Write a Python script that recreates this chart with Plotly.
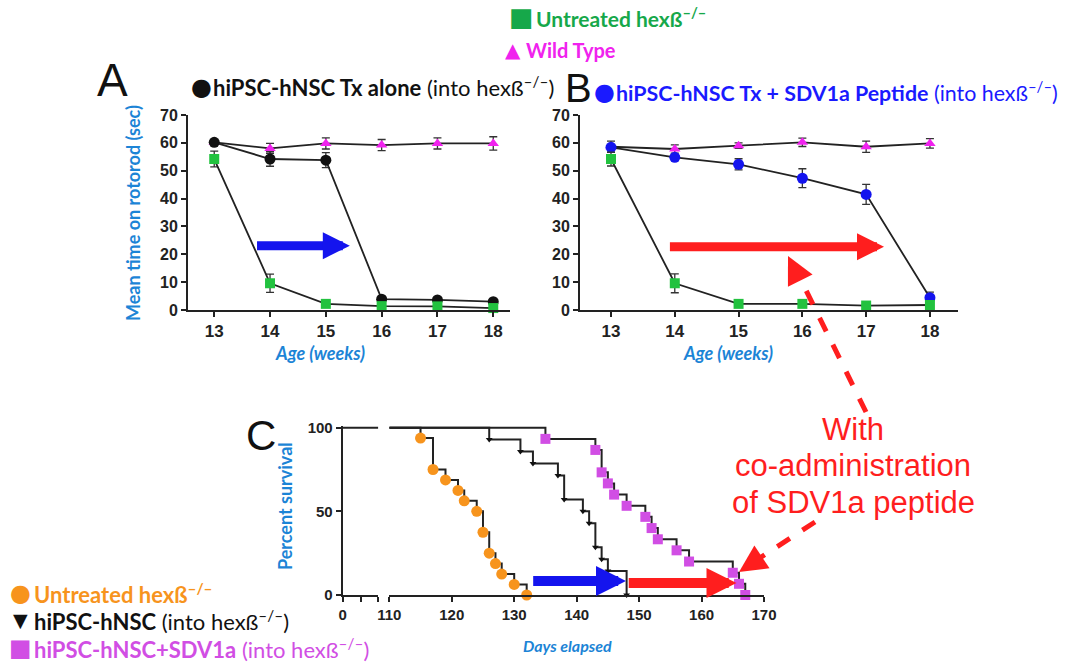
import plotly.graph_objects as go

W, H = 1080, 664
def PX(x): return x / W
def PY(y): return 1 - y / H

# ---------------- data ----------------
weeks = [13, 14, 15, 16, 17, 18]
# Panel A
a_wt = [60.2, 58.0, 59.8, 59.2, 59.8, 59.8]
a_wt_err = [0.8, 1.8, 2.0, 2.0, 2.0, 2.4]
a_tx = [60.2, 54.2, 53.8, 3.9, 3.6, 3.0]
a_tx_err = [0.6, 2.6, 2.7, 0.6, 0.5, 0.5]
a_un = [54.2, 9.6, 2.2, 1.4, 1.3, 0.7]
a_un_err = [2.8, 3.3, 0.5, 0.3, 0.3, 0.3]
# Panel B
b_wt = [58.6, 57.8, 59.0, 60.2, 58.6, 59.8]
b_wt_err = [2.0, 1.5, 1.0, 1.5, 2.0, 1.7]
b_tx = [58.4, 54.8, 52.3, 47.3, 41.5, 4.4]
b_tx_err = [1.0, 1.0, 2.0, 3.4, 3.6, 2.0]
b_un = [54.2, 9.6, 2.2, 2.2, 1.6, 1.8]
b_un_err = [2.5, 3.4, 0.4, 0.4, 0.4, 0.4]

# Panel C (Kaplan-Meier event times and survival %)
c_un_days = [115, 117, 119, 121, 122, 124, 125, 126, 127, 128, 130, 132]
c_un_pct = [93.8, 75.0, 68.8, 62.5, 56.3, 50.0, 37.5, 25.0, 18.8, 12.5, 6.3, 0.0]
c_tx_days = [126, 131, 133, 137, 138, 141, 142, 143, 144, 145, 148]
c_tx_pct = [92.9, 85.7, 78.6, 71.4, 57.1, 50.0, 42.9, 28.6, 21.4, 14.3, 0.0]
c_sd_days = [135, 143, 144, 145, 146, 148, 151, 152, 153, 156, 158, 165, 166, 167]
c_sd_pct = [93.3, 86.7, 73.3, 66.7, 60.0, 53.3, 46.7, 40.0, 33.3, 26.7, 20.0, 13.3, 6.7, 0.0]
c_start_day = 110
c_break = [0, 2]
c_ticks = [110, 120, 130, 140, 150, 160, 170]

# ---------------- styles ----------------
GREEN = "#22c23f"
GREEN_T = "#16a84a"
MAG = "#f022ee"
BLUE = "#1414ee"
BLUE_T = "#1c84d6"
ORANGE = "#f7941d"
PURPLE = "#d14ee4"
RED = "#ff1e1e"
LINE = "#222222"
CAL = "Lato"
GLYPH = "DejaVu Sans"
TICKF = dict(family="Liberation Sans", size=16, color="#222", weight="bold")

fig = go.Figure()

def series(xa, ya, yvals, err, symbol, color, size):
    fig.add_trace(go.Scatter(
        x=weeks, y=yvals, xaxis=xa, yaxis=ya, mode="lines+markers",
        line=dict(color=LINE, width=1.8),
        marker=dict(symbol=symbol, color=color, size=size, line=dict(width=0)),
        error_y=dict(type="data", array=err, color="#333", thickness=1.3, width=4),
        cliponaxis=False, showlegend=False))

series("x", "y", a_wt, a_wt_err, "triangle-up", MAG, 10)
series("x", "y", a_tx, a_tx_err, "circle", "#111", 11)
series("x", "y", a_un, a_un_err, "square", GREEN, 10)
series("x2", "y2", b_wt, b_wt_err, "triangle-up", MAG, 10)
series("x2", "y2", b_tx, b_tx_err, "circle", BLUE, 11)
series("x2", "y2", b_un, b_un_err, "square", GREEN, 10)

# Panel C - broken axis first segment (all groups at 100%)
fig.add_trace(go.Scatter(x=c_break, y=[100, 100], xaxis="x3", yaxis="y3", mode="lines",
                         line=dict(color=LINE, width=2), showlegend=False))

def km(days, pct, symbol, color, size):
    fig.add_trace(go.Scatter(
        x=[c_start_day] + days, y=[100] + pct, xaxis="x4", yaxis="y3", mode="lines",
        line=dict(color=LINE, width=2, shape="hv"), showlegend=False))
    fig.add_trace(go.Scatter(
        x=days, y=pct, xaxis="x4", yaxis="y3", mode="markers",
        marker=dict(symbol=symbol, color=color, size=size, line=dict(width=0)),
        cliponaxis=False, showlegend=False))

km(c_sd_days, c_sd_pct, "square", PURPLE, 10)
km(c_tx_days, c_tx_pct, "triangle-down", "#111", 6)
km(c_un_days, c_un_pct, "circle", ORANGE, 11)

axis_common = dict(showline=True, linecolor=LINE, linewidth=2, ticks="outside",
                   ticklen=5, tickwidth=2, tickcolor=LINE, showgrid=False,
                   zeroline=False, tickfont=TICKF, automargin=False)

def a_or_b_x(dom, rng):
    d = dict(axis_common); d.update(domain=dom, range=rng, tickvals=weeks,
                                    tickfont=dict(TICKF, size=17))
    return d

def a_or_b_y(anchor):
    d = dict(axis_common); d.update(domain=[PY(310), PY(115)], range=[0, 70], dtick=10,
                                    anchor=anchor, tickfont=dict(TICKF, size=16))
    return d

xa = a_or_b_x([PX(188), PX(510)], [12.53, 18.30]); xa["anchor"] = "y"
xb = a_or_b_x([PX(580), PX(958)], [12.514, 18.44]); xb["anchor"] = "y2"
ya = a_or_b_y("x")
yb = a_or_b_y("x2")

x3 = dict(axis_common); x3.update(domain=[PX(342.7), PX(378.3)], range=c_break,
                                   tickvals=[0, 1, 2], ticktext=["0", "", ""], anchor="y3",
                                   tickfont=dict(TICKF, size=15))
x4 = dict(axis_common); x4.update(domain=[PX(389.3), PX(764)], range=[110, 170],
                                   tickvals=c_ticks, anchor="y3", tickfont=dict(TICKF, size=15))
y3 = dict(axis_common); y3.update(domain=[PY(595), PY(426)], range=[0, 101],
                                   tickvals=[0, 50, 100], anchor="x3", tickfont=dict(TICKF, size=15))

fig.update_layout(
    width=W, height=H, margin=dict(l=0, r=0, t=0, b=0, autoexpand=False),
    paper_bgcolor="white", plot_bgcolor="white", showlegend=False,
    xaxis=xa, yaxis=ya, xaxis2=xb, yaxis2=yb, xaxis3=x3, xaxis4=x4, yaxis3=y3,
)

ann = []
def txt(x, y, s, size, color, family=CAL, xanchor="left", angle=0, **kw):
    ann.append(dict(x=PX(x), y=PY(y), xref="paper", yref="paper", text=s, showarrow=False,
                    xanchor=xanchor, yanchor="middle", textangle=angle,
                    font=dict(family=family, size=size, color=color), **kw))

SUP = "<sup>\u2013/\u2013</sup>"
# top legend
txt(521, 17, "\u25a0", 26, GREEN_T, family=GLYPH, xanchor="center")
txt(534, 17, "<b>Untreated hex\u00df" + SUP + "</b>", 21, GREEN_T)
txt(513, 50, "\u25b2", 20, MAG, family=GLYPH, xanchor="center")
txt(524, 50, "<b>Wild Type</b>", 20, MAG)
# panel letters and headings
txt(112, 80, "A", 46, "#111", family="Liberation Sans", xanchor="center")
txt(578, 88, "B", 40, "#111", family="Liberation Sans", xanchor="center")
txt(261, 436, "C", 42, "#111", family="Liberation Sans", xanchor="center")
txt(201, 87, "\u25cf", 24, "#111", family=GLYPH, xanchor="center")
txt(211, 87, "<b>hiPSC-hNSC Tx alone</b> (into hex\u00df" + SUP + ")", 22, "#111")
txt(604, 92, "\u25cf", 24, "#1a1aff", family=GLYPH, xanchor="center")
txt(614, 92, "<b>hiPSC-hNSC Tx + SDV1a Peptide</b> (into hex\u00df" + SUP + ")", 21.4, "#1a1aff")
# axis titles
txt(133, 213, "<b>Mean time on rotorod (sec)</b>", 18, BLUE_T, xanchor="center", angle=-90)
txt(320, 353, "<b><i>Age (weeks)</i></b>", 18, BLUE_T, xanchor="center")
txt(728, 353, "<b><i>Age (weeks)</i></b>", 18, BLUE_T, xanchor="center")
txt(285, 506, "<b>Percent survival</b>", 18, BLUE_T, xanchor="center", angle=-90)
txt(567, 645, "<b><i>Days elapsed</i></b>", 16, BLUE_T, xanchor="center")
# survival legend
txt(20, 593, "\u25cf", 24, ORANGE, family=GLYPH, xanchor="center")
txt(32, 593, "<b>Untreated hex\u00df" + SUP + "</b>", 22, ORANGE)
txt(20, 620, "\u25bc", 19, "#111", family=GLYPH, xanchor="center")
txt(32, 620, "<b>hiPSC-hNSC</b> (into hex\u00df" + SUP + ")", 22, "#111")
txt(20, 648, "\u25a0", 24, PURPLE, family=GLYPH, xanchor="center")
txt(32, 648, "<b>hiPSC-hNSC+SDV1a</b> (into hex\u00df" + SUP + ")", 22, PURPLE)
# red callout text
txt(853, 430, "With", 31, RED, family="Liberation Sans", xanchor="center")
txt(853, 466, "co-administration", 31, RED, family="Liberation Sans", xanchor="center")
txt(853, 502, "of SDV1a peptide", 31, RED, family="Liberation Sans", xanchor="center")

# block arrows (data coordinates)
def block_arrow(xref, yref, x0, x1, y, color, w=9, size=0.6):
    ann.append(dict(x=x1, y=y, ax=x0, ay=y, xref=xref, yref=yref, axref=xref, ayref=yref,
                    text="", showarrow=True, arrowhead=2, arrowwidth=w, arrowsize=size,
                    arrowcolor=color, standoff=0))
block_arrow("x", "y", 13.74, 15.43, 23.1, BLUE)
block_arrow("x2", "y2", 13.90, 17.28, 22.7, RED)
block_arrow("x4", "y3", 132.8, 147.9, 8.4, BLUE, w=10)
block_arrow("x4", "y3", 148.1, 165.6, 7.2, RED, w=10)

# dashed callout arrows
shapes = [
    dict(type="line", xref="paper", yref="paper", x0=PX(866), y0=PY(412), x1=PX(796), y1=PY(270),
         line=dict(color=RED, width=5, dash="dash")),
    dict(type="line", xref="paper", yref="paper", x0=PX(815), y0=PY(522), x1=PX(752), y1=PY(563),
         line=dict(color=RED, width=5, dash="dash")),
]
for (hx, hy, dx, dy) in [(788, 256, 0.445, 0.896), (739, 572, 0.835, -0.55)]:
    ann.append(dict(x=PX(hx), y=PY(hy), xref="paper", yref="paper", ax=dx * 18, ay=dy * 18,
                    text="", showarrow=True, arrowhead=2, arrowwidth=5, arrowsize=1.1,
                    arrowcolor=RED, standoff=0))

fig.update_layout(annotations=ann, shapes=shapes)
fig.write_html("out.html")
